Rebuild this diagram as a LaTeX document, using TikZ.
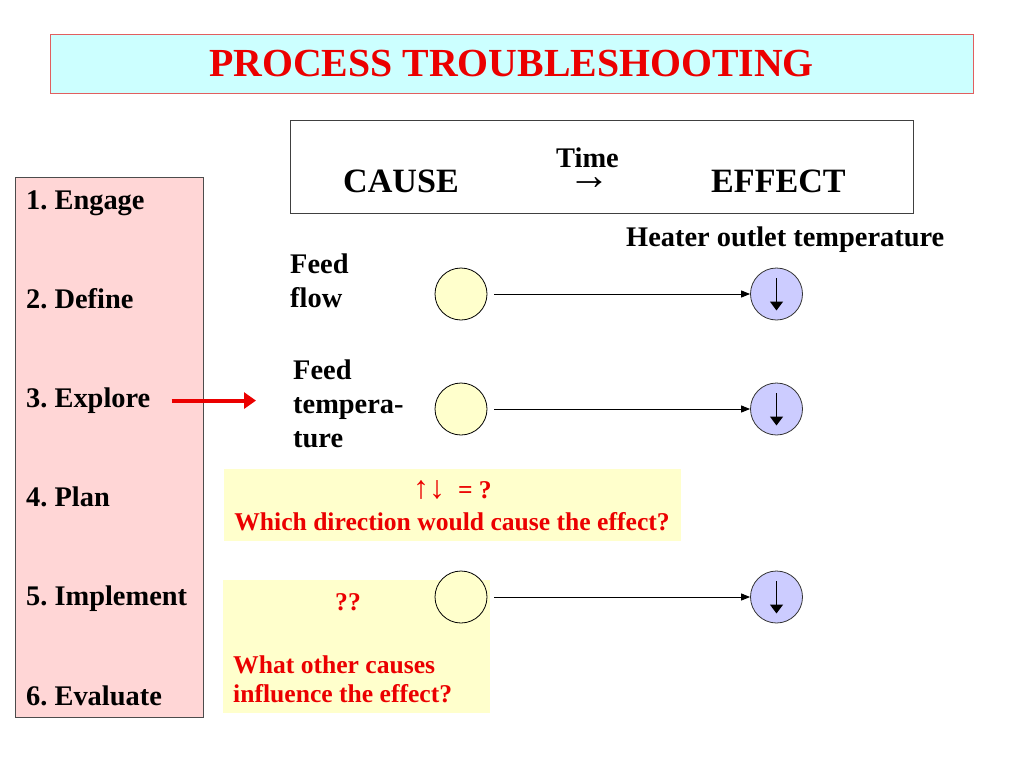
\documentclass[tikz,border=0pt]{standalone}
\usepackage{fontspec}
\setmainfont{Liberation Serif}
\usetikzlibrary{arrows.meta, positioning}

\definecolor{titlered}{RGB}{235,0,0}
\definecolor{titlecyan}{RGB}{204,255,255}
\definecolor{titleedge}{RGB}{225,95,95}
\definecolor{steppink}{RGB}{255,214,214}
\definecolor{noteyellow}{RGB}{255,255,204}
\definecolor{effectblue}{RGB}{204,204,255}

\newcommand{\titlesize}{\fontsize{39.8}{46}\selectfont}
\newcommand{\bigsize}{\fontsize{34.1}{40}\selectfont}
\newcommand{\bodysize}{\fontsize{28.4}{34}\selectfont}
\newcommand{\notesize}{\fontsize{25.6}{29}\selectfont}

\tikzset{
	stepitem/.style={anchor=base west, inner sep=0pt, font=\bodysize\bfseries},
	causelabel/.style={anchor=base west, inner sep=0pt, align=left, font=\bodysize\bfseries},
	causecirc/.style={circle, draw=black, fill=noteyellow, line width=0.8pt, minimum size=52pt, inner sep=0pt},
	effectcirc/.style={circle, draw=black!80, fill=effectblue, line width=0.8pt, minimum size=52pt, inner sep=0pt},
	timearrow/.style={-{Triangle[length=9pt,width=7pt]}, line width=0.9pt, shorten <=7pt},
	downarrow/.style={-{Triangle[length=9pt,width=13pt]}, line width=1.4pt},
	notebox/.style={fill=noteyellow, inner sep=0pt},
	notetext/.style={text=titlered, font=\notesize\bfseries, inner sep=0pt}
}

\begin{document}
\frenchspacing
\begin{tikzpicture}[x=1pt, y=-1pt]
	\useasboundingbox (0,0) rectangle (1024,768);

	% title bar
	\node[draw=titleedge, fill=titlecyan, line width=0.8pt, minimum width=923pt, minimum height=59pt,
		inner sep=0pt, text=titlered, font=\titlesize\bfseries] (title) at (511.5,63.5) {PROCESS TROUBLESHOOTING};

	% cause -> effect frame
	\node[draw=black!75, line width=0.8pt, minimum width=623pt, minimum height=93pt, inner sep=0pt] (ceframe) at (601.5,166.5) {};
	\node[anchor=base west, inner sep=0pt, font=\bigsize\bfseries] (cause) at (343,192) {CAUSE};
	\node[anchor=base west, inner sep=0pt, font=\bigsize\bfseries] (effect) at (711,192) {EFFECT};
	\node[anchor=base, inner sep=0pt, font=\bodysize\bfseries] (time) at (587.5,167) {Time};
	\node[inner sep=0pt, font=\fontsize{42}{42}\selectfont] (timearr) at (589.5,184) {→};

	% steps
	\node[draw=black!70, fill=steppink, line width=0.8pt, minimum width=188pt, minimum height=540pt, inner sep=0pt] (panel) at (109,447) {};
	\foreach \name [count=\i] in {1. Engage, 2. Define, 3. Explore, 4. Plan, 5. Implement, 6. Evaluate}
		\node[stepitem] (step\i) at (26,{209+99.2*(\i-1)}) {\name};

	\node[anchor=base west, inner sep=0pt, font=\bodysize\bfseries] (heater) at (626,246) {Heater outlet temperature};

	% causes (base = last line)
	\node[causelabel] (fflow) at (290,307) {Feed\\flow};
	\node[causelabel] (ftemp) at (293,447) {Feed\\tempera-\\ture};

	\draw[-{Triangle[length=12pt,width=16pt]}, titlered, line width=4pt, shorten <=21pt, shorten >=37pt]
		(step3.east) -- (step3.east -| ftemp.west);

	% notes
	\node[notebox, minimum width=457pt, minimum height=72pt] (note1) at (452.5,505) {};
	\node[notetext, anchor=base] (dirq) at (452.5,498) {{\mdseries\fontsize{32}{32}\selectfont ↑↓}\ \ = ?};
	\node[notetext, anchor=base] (dirtext) at (452,530) {Which direction would cause the effect?};

	\node[notebox, minimum width=267pt, minimum height=133pt] (note2) at (356.5,646.5) {};
	\node[notetext, anchor=base] (others) at (348,610) {??};
	\node[notetext, anchor=base west, align=left] (othertext) at (233,702) {What other causes\\influence the effect?};

	% cause and effect circles
	\foreach \i/\y in {1/294, 2/409, 3/597} {
		\node[causecirc] (c\i) at (461,\y) {};
		\node[effectcirc] (e\i) at (776.5,\y) {};
		\draw[timearrow] (c\i) -- (e\i);
		\draw[downarrow] ([yshift=16pt]e\i.center) -- ([yshift=-16.5pt]e\i.center);
	}
\end{tikzpicture}
\end{document}
